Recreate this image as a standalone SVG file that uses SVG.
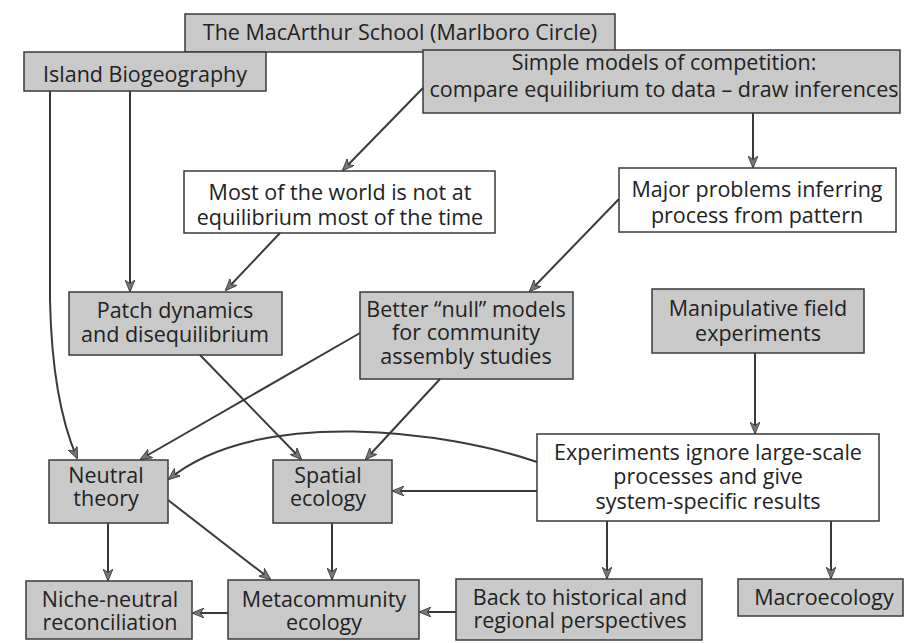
<svg xmlns="http://www.w3.org/2000/svg" width="906" height="643" viewBox="0 0 906 643">
<style>
.g{fill:#c9c9c9;stroke:#3a3a3a;stroke-width:1.5}
.w{fill:#ffffff;stroke:#3a3a3a;stroke-width:1.5}
text{font-family:"Open Sans","Liberation Sans",sans-serif;font-size:21.5px;fill:#222;text-anchor:middle}
.c path,.c line{fill:none;stroke:#3a3a3a;stroke-width:2;marker-end:url(#ah)}
</style>
<defs>
<marker id="ah" viewBox="0 0 12 10" refX="11" refY="5" markerWidth="12" markerHeight="10" markerUnits="userSpaceOnUse" orient="auto">
<path d="M0,0 L12,5 L0,10 L3.5,5 z" fill="#777" stroke="#333" stroke-width="0.8"/>
</marker>
</defs>
<rect width="906" height="643" fill="#fff"/>
<g id="macarthur"><rect class="g" x="185" y="14" width="430" height="38"/><text x="400" y="40">The MacArthur School (Marlboro Circle)</text></g>
<g id="island"><rect class="g" x="24" y="52" width="242" height="39"/><text x="145" y="82">Island Biogeography</text></g>
<g id="simple"><rect class="g" x="423" y="50" width="477" height="63"/><text x="664" y="70">Simple models of competition:<tspan x="664" y="97">compare equilibrium to data – draw inferences</tspan></text></g>
<g id="world"><rect class="w" x="184" y="171" width="311" height="62"/><text x="340" y="200">Most of the world is not at<tspan x="340" y="225">equilibrium most of the time</tspan></text></g>
<g id="major"><rect class="w" x="619" y="168" width="277" height="64"/><text x="757" y="197">Major problems inferring<tspan x="757" y="223">process from pattern</tspan></text></g>
<g id="patch"><rect class="g" x="69" y="292" width="213" height="63"/><text x="175" y="318">Patch dynamics<tspan x="175" y="342">and disequilibrium</tspan></text></g>
<g id="null"><rect class="g" x="360" y="292" width="213" height="87"/><text x="466" y="317">Better “null” models<tspan x="466" y="340">for community</tspan><tspan x="466" y="364">assembly studies</tspan></text></g>
<g id="manip"><rect class="g" x="652" y="289" width="212" height="64"/><text x="758" y="316">Manipulative field<tspan x="758" y="341">experiments</tspan></text></g>
<g id="experiments"><rect class="w" x="537" y="434" width="342" height="87"/><text x="708" y="460">Experiments ignore large-scale<tspan x="708" y="484">processes and give</tspan><tspan x="708" y="509">system-specific results</tspan></text></g>
<g id="neutral"><rect class="g" x="49" y="460" width="119" height="63"/><text x="106" y="483">Neutral<tspan x="106" y="506">theory</tspan></text></g>
<g id="spatial"><rect class="g" x="273" y="460" width="119" height="63"/><text x="328" y="483">Spatial<tspan x="328" y="506">ecology</tspan></text></g>
<g id="niche"><rect class="g" x="26" y="581" width="166" height="58"/><text x="110" y="607">Niche-neutral<tspan x="110" y="630">reconciliation</tspan></text></g>
<g id="metacommunity"><rect class="g" x="228" y="580" width="191" height="59"/><text x="324" y="607">Metacommunity<tspan x="324" y="630">ecology</tspan></text></g>
<g id="historical"><rect class="g" x="456" y="579" width="246" height="61"/><text x="580" y="605">Back to historical and<tspan x="580" y="628">regional perspectives</tspan></text></g>
<g id="macro"><rect class="g" x="738" y="579" width="165" height="37"/><text x="824" y="605">Macroecology</text></g>
<g id="connectors" class="c">
<path d="M50,91 L50,300 Q52,400 77,458"/>
<line x1="130" y1="91" x2="130" y2="291"/>
<line x1="423" y1="88" x2="343" y2="170"/>
<line x1="753" y1="113" x2="753" y2="167"/>
<line x1="280" y1="233" x2="226" y2="290"/>
<line x1="619" y1="199" x2="530" y2="291"/>
<line x1="200" y1="355" x2="301" y2="459"/>
<line x1="360" y1="333" x2="141" y2="459"/>
<line x1="440" y1="379" x2="366" y2="459"/>
<line x1="755" y1="353" x2="755" y2="433"/>
<path d="M537,462 C450,432 260,405 169,479"/>
<line x1="537" y1="491" x2="393" y2="491"/>
<line x1="607" y1="521" x2="607" y2="578"/>
<line x1="831" y1="521" x2="831" y2="578"/>
<line x1="108" y1="523" x2="108" y2="580"/>
<line x1="168" y1="500" x2="270" y2="579"/>
<line x1="332" y1="523" x2="332" y2="579"/>
<line x1="228" y1="613" x2="193" y2="613"/>
<line x1="456" y1="612" x2="420" y2="612"/>
</g>
</svg>
